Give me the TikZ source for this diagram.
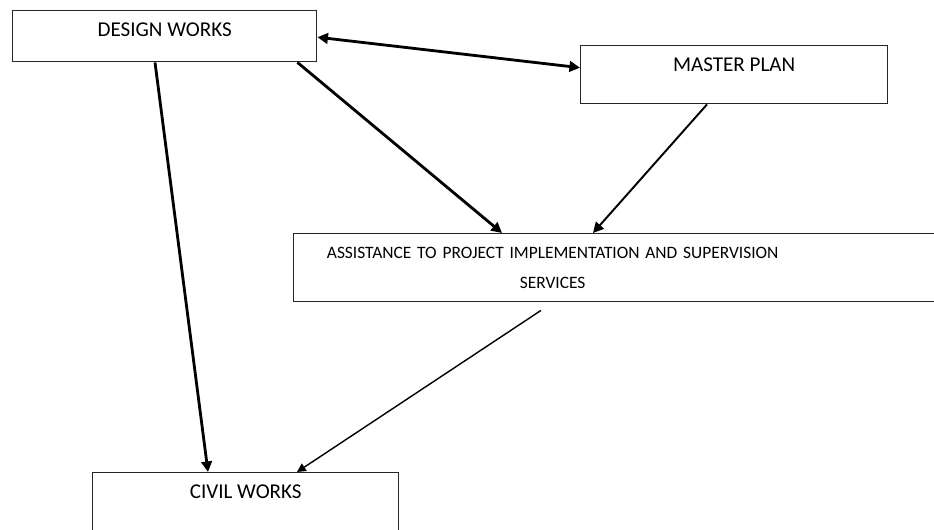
\documentclass[tikz,border=0pt]{standalone}
\usepackage{fontspec}
\setmainfont{Carlito}
\usetikzlibrary{positioning, arrows.meta}

\begin{document}
\begin{tikzpicture}[
    box/.style={draw=black!85, line width=0.8pt, inner xsep=0pt, inner ysep=0pt,
      anchor=north west, align=center, font=\fontsize{12}{17}\selectfont},
    topbox/.style={box, text height=0.52cm},
    link/.style={-{Triangle[length=6pt, width=6pt]}, line width=1.6pt},
    thinlink/.style={-{Triangle[length=5pt, width=5pt]}, line width=0.8pt}
  ]
    \path[use as bounding box, clip] (0,0) rectangle (18.68,-10.6);
    %--- BOXES ---
    \node[topbox, minimum width=6.08cm, text depth=0.5cm] (design) at (0.24,-0.2) {DESIGN WORKS};
    \node[topbox, minimum width=6.14cm, text depth=0.64cm] (master) at (11.6,-0.9) {MASTER PLAN};
    \node[box, minimum width=13.2cm, text width=13.2cm, align=left, minimum height=1.36cm,
      font=\fontsize{9.9}{17}\selectfont] (assist) at (5.86,-4.66)
      {\parbox{10.36cm}{\centering ASSISTANCE TO PROJECT IMPLEMENTATION AND SUPERVISION\\ SERVICES}};
    \node[topbox, minimum width=6.12cm, text depth=1.2cm] (civil) at (1.84,-9.44) {CIVIL WORKS};
    %--- ARROWS ---
    \draw[link, {Triangle[length=6pt, width=6pt]}-{Triangle[length=6pt, width=6pt]}]
      ([yshift=-0.02cm]design.east) -- ([yshift=0.14cm]master.west);
    \draw[link] ([xshift=-0.4cm]design.south east) -- ([xshift=4.18cm]assist.north west);
    \draw[link, line width=1.1pt] ([xshift=2.54cm]master.south west) -- ([xshift=6cm]assist.north west);
    \draw[link] ([xshift=2.86cm]design.south west) -- ([xshift=2.32cm]civil.north west);
    \draw[thinlink] ([xshift=4.96cm, yshift=-0.16cm]assist.south west) -- ([xshift=4.1cm]civil.north west);
  \end{tikzpicture}
\end{document}
